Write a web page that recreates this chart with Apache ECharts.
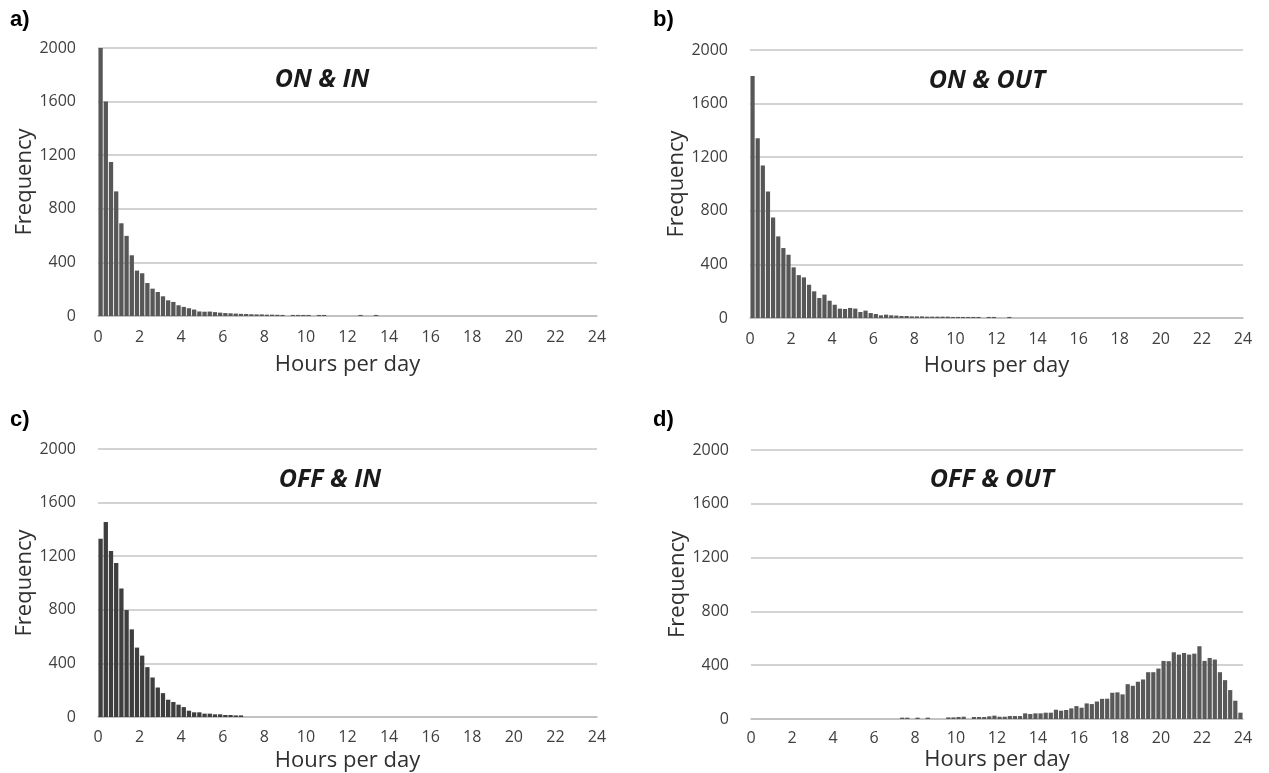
<!DOCTYPE html>
<html>
<head>
<meta charset="utf-8">
<script src="https://cdn.jsdelivr.net/npm/echarts@6/dist/echarts.min.js"></script>
<style>
html,body{margin:0;padding:0;background:#fff;}
#chart{width:1269px;height:773px;}
</style>
</head>
<body>
<div id="chart"></div>
<script>
// Histogram bins: 0.25 hour wide, index i covers [i*0.25, (i+1)*0.25)
const binWidthHours = 0.25;
const xTicks = [0,2,4,6,8,10,12,14,16,18,20,22,24];
const yTicks = [0,400,800,1200,1600,2000];
const panelLetters = ['a)','b)','c)','d)'];
const panelTitles = ['ON & IN','ON & OUT','OFF & IN','OFF & OUT'];

const onIn = [2000,1600,1150,930,692,598,453,339,319,246,204,179,147,117,105,80,68,58,48,34,
  32,33,29,25,22,20,18,16,15,13,12,12,10,10,9,8,0,8,8,8,8,0,8,8,0,0,0,0,0,0,8,0,0,8];
const onOut = [1806,1341,1138,944,750,609,522,472,378,320,303,248,199,149,174,129,99,70,67,75,
  70,45,55,37,30,20,25,20,18,15,15,12,12,12,10,10,10,10,10,8,8,8,8,8,8,0,8,8,0,0,8];
const offIn = [1331,1455,1239,1150,959,798,654,518,458,372,295,220,178,129,112,92,74,47,35,35,
  25,25,20,20,15,15,12,12];
const offOut = [0,0,0,0,0,0,0,0,0,0,0,0,0,0,0,0,0,0,0,0,
  0,0,0,0,0,0,0,0,0,10,10,0,10,0,10,0,0,0,12,12,
  15,17,0,15,15,15,20,25,17,17,22,22,22,42,37,42,42,47,47,69,
  62,67,79,96,84,116,111,130,150,151,195,198,183,259,247,277,294,348,348,375,
  432,430,496,479,491,479,486,541,432,454,442,348,289,215,136,47];

const panelData = [onIn, onOut, offIn, offOut];
const barColors = ['#575757','#575757','#3e3e3e','#595959'];
const grids = [
  {left:98, top:48, width:499, height:268},
  {left:750, top:50, width:493, height:268},
  {left:98, top:449, width:499, height:268},
  {left:751, top:450, width:492, height:269}
];
const xLabelMargin = [13,13,12,11];
const xNameGap = [38,37,33,30];
const titlePos = [[322,80],[987,81],[330,480],[992,480]];
const letterPos = [[10,20],[653,20],[10,420],[653,420]];

const FONT = '"Open Sans", sans-serif';
const chart = echarts.init(document.getElementById('chart'), null, {renderer:'canvas'});

const option = {
  animation:false,
  backgroundColor:'#ffffff',
  grid: grids.map(g => Object.assign({containLabel:false, outerBoundsMode:'none'}, g)),
  xAxis: grids.map((g,i) => ({
    gridIndex:i, type:'value', min:xTicks[0], max:xTicks[xTicks.length-1], interval:2,
    axisLine:{show:true, lineStyle:{color:'#bdbdbd', width:1.5}},
    axisTick:{show:false}, splitLine:{show:false},
    axisLabel:{fontSize:16, color:'#404040', fontFamily:FONT, margin:xLabelMargin[i]},
    name:'Hours per day', nameLocation:'middle', nameGap:xNameGap[i],
    nameTextStyle:{fontSize:22, color:'#303030', fontFamily:FONT}
  })),
  yAxis: grids.map((g,i) => ({
    gridIndex:i, type:'value', min:yTicks[0], max:yTicks[yTicks.length-1], interval:400,
    axisLine:{show:false}, axisTick:{show:false},
    splitLine:{show:true, lineStyle:{color:'#c4c4c4', width:1.5}},
    axisLabel:{fontSize:16, color:'#404040', fontFamily:FONT, margin:22, formatter: v => String(v)},
    name:'Frequency', nameLocation:'middle', nameGap:56,
    nameTextStyle:{fontSize:22, color:'#303030', fontFamily:FONT}
  })),
  series: panelData.map((arr,i) => ({
    type:'bar', xAxisIndex:i, yAxisIndex:i,
    barWidth: i % 2 === 0 ? 4.3 : 4.2,
    itemStyle:{color:barColors[i]},
    data: arr.map((v,k) => [k*binWidthHours + binWidthHours/2, v]).filter(d => d[1] > 0)
  })),
  graphic: [
    ...panelTitles.map((t,i) => ({
      type:'text', x:titlePos[i][0], y:titlePos[i][1],
      style:{text:t, font:'italic bold 25px "Open Sans", sans-serif', fill:'#1a1a1a',
        textAlign:'center', textVerticalAlign:'middle'}
    })),
    ...panelLetters.map((t,i) => ({
      type:'text', x:letterPos[i][0], y:letterPos[i][1],
      style:{text:t, font:'bold 22px "Liberation Sans", Arial, sans-serif', fill:'#000',
        textAlign:'left', textVerticalAlign:'middle'}
    }))
  ]
};
chart.setOption(option);
</script>
</body>
</html>
